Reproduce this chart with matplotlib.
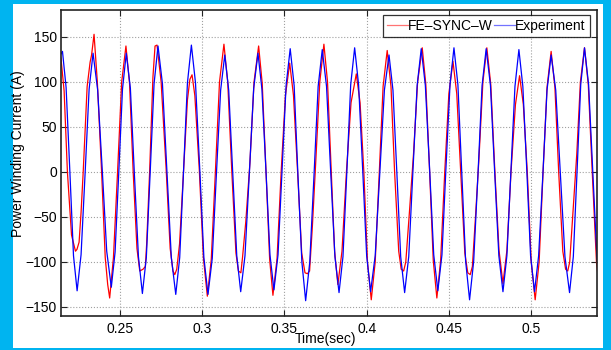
import matplotlib
matplotlib.use("Agg")
import matplotlib.pyplot as plt

plt.rcParams['font.family'] = ['Liberation Sans', 'DejaVu Sans']

# ---------------- data ----------------
t_exp = [0.2140, 0.2150, 0.2172, 0.2195, 0.2217, 0.2239, 0.2263, 0.2288, 0.2312, 0.2336,
         0.2364, 0.2392, 0.2419, 0.2447, 0.2470, 0.2493, 0.2515, 0.2538,
         0.2563, 0.2587, 0.2612, 0.2636, 0.2660, 0.2684, 0.2707, 0.2731,
         0.2758, 0.2785, 0.2812, 0.2839, 0.2863, 0.2887, 0.2910, 0.2934,
         0.2959, 0.2985, 0.3010, 0.3035, 0.3061, 0.3086, 0.3112, 0.3137,
         0.3161, 0.3186, 0.3210, 0.3234, 0.3260, 0.3287, 0.3313, 0.3339,
         0.3363, 0.3388, 0.3412, 0.3436, 0.3461, 0.3486, 0.3510, 0.3535,
         0.3559, 0.3582, 0.3606, 0.3629, 0.3654, 0.3680, 0.3705, 0.3730,
         0.3756, 0.3781, 0.3807, 0.3832, 0.3856, 0.3880, 0.3903, 0.3927,
         0.3951, 0.3976, 0.4000, 0.4024, 0.4052, 0.4080, 0.4108, 0.4136,
         0.4160, 0.4184, 0.4207, 0.4231, 0.4256, 0.4282, 0.4307, 0.4332,
         0.4357, 0.4383, 0.4408, 0.4433, 0.4458, 0.4482, 0.4507, 0.4531,
         0.4555, 0.4579, 0.4602, 0.4626, 0.4651, 0.4677, 0.4702, 0.4727,
         0.4753, 0.4778, 0.4804, 0.4829, 0.4853, 0.4878, 0.4902, 0.4926,
         0.4950, 0.4974, 0.4997, 0.5021, 0.5046, 0.5072, 0.5097, 0.5122,
         0.5150, 0.5178, 0.5206, 0.5234, 0.5257, 0.5280, 0.5302, 0.5325,
         0.5350, 0.5375, 0.5400, 0.5425]
i_exp = [131, 134, 94, 0, -93, -132, -92, 0, 92, 132,
         91, 2, -88, -128, -89, 2, 92, 132,
         93, -1, -94, -135, -95, 2, 98, 140,
         98, 2, -95, -136, -95, 3, 99, 141,
         99, 3, -95, -136, -96, -3, 91, 130,
         91, -2, -93, -133, -93, 0, 93, 132,
         92, 0, -92, -131, -92, 3, 96, 137,
         96, -3, -100, -143, -100, -3, 95, 136,
         95, 1, -94, -134, -94, 2, 97, 138,
         97, 2, -93, -133, -93, -2, 91, 130,
         91, -2, -94, -134, -94, 2, 96, 137,
         96, 3, -92, -132, -92, 3, 97, 138,
         97, -2, -99, -142, -99, -3, 96, 137,
         96, 2, -93, -133, -93, 2, 95, 136,
         95, 2, -93, -133, -93, -2, 91, 130,
         91, -2, -94, -134, -94, 2, 97, 138,
         97, 2, -93, -134]

t_fe = [0.2125, 0.2141, 0.2160, 0.2180, 0.2205, 0.2229, 0.2238, 0.2251, 0.2263, 0.2276,
        0.2300, 0.2318, 0.2327, 0.2342,
        0.2362, 0.2388, 0.2410, 0.2425, 0.2437,
        0.2460, 0.2485, 0.2510, 0.2536,
        0.2558, 0.2580, 0.2603, 0.2620, 0.2640, 0.2654,
        0.2662, 0.2680, 0.2700, 0.2713, 0.2725,
        0.2750, 0.2780, 0.2805, 0.2822, 0.2833, 0.2845,
        0.2862, 0.2886, 0.2910, 0.2925, 0.2938,
        0.2955, 0.2982, 0.3007, 0.3031,
        0.3055, 0.3080, 0.3105, 0.3132,
        0.3155, 0.3180, 0.3205, 0.3220, 0.3235, 0.3245,
        0.3265, 0.3290, 0.3315, 0.3343,
        0.3365, 0.3388, 0.3410, 0.3430,
        0.3455, 0.3480, 0.3506, 0.3532,
        0.3555, 0.3580, 0.3605, 0.3625, 0.3640, 0.3653,
        0.3670, 0.3690, 0.3715, 0.3740,
        0.3762, 0.3785, 0.3805, 0.3825,
        0.3850, 0.3877, 0.3905, 0.3937,
        0.3960, 0.3983, 0.4005, 0.4028,
        0.4052, 0.4077, 0.4100, 0.4125,
        0.4148, 0.4170, 0.4195, 0.4210, 0.4225, 0.4238,
        0.4260, 0.4285, 0.4310, 0.4338,
        0.4360, 0.4383, 0.4405, 0.4427,
        0.4450, 0.4475, 0.4500, 0.4525,
        0.4548, 0.4572, 0.4597, 0.4615, 0.4630, 0.4643,
        0.4662, 0.4683, 0.4707, 0.4731,
        0.4755, 0.4780, 0.4805, 0.4829,
        0.4853, 0.4878, 0.4905, 0.4930,
        0.4953, 0.4977, 0.5001, 0.5025,
        0.5049, 0.5073, 0.5097, 0.5122,
        0.5145, 0.5168, 0.5193, 0.5210, 0.5223, 0.5235,
        0.5255, 0.5278, 0.5300, 0.5325,
        0.5348, 0.5372, 0.5398, 0.5420]
i_fe = [134, 126, 90, 0, -70, -88, -86, -78, -45, 0,
        95, 122, 130, 153,
        100, 0, -95, -125, -140,
        -95, 0, 100, 140,
        98, 0, -85, -110, -108, -105,
        -80, 0, 105, 140, 141,
        100, 5, -85, -110, -114, -108,
        -80, 0, 80, 103, 108,
        85, 3, -95, -138,
        -97, 0, 100, 142,
        100, 0, -90, -110, -112, -95,
        -55, 10, 100, 140,
        98, 0, -97, -137,
        -96, 0, 85, 121,
        85, 0, -90, -112, -113, -110,
        -60, 10, 100, 142,
        100, 0, -88, -125,
        -88, 0, 77, 109,
        77, 0, -100, -142,
        -100, 0, 95, 135,
        95, 0, -88, -108, -110, -100,
        -45, 20, 100, 138,
        97, 0, -98, -140,
        -98, 0, 87, 123,
        87, 0, -90, -112, -114, -105,
        -50, 15, 100, 138,
        97, 0, -87, -124,
        -87, 0, 75, 107,
        75, 0, -100, -142,
        -100, 0, 94, 134,
        94, 0, -88, -108, -110, -100,
        -45, 20, 100, 138,
        97, 0, -101, -135]

series_labels = ['FE\u2013SYNC\u2013W', 'Experiment']
x_ticks = [0.25, 0.3, 0.35, 0.4, 0.45, 0.5]
x_tick_labels = ['0.25', '0.3', '0.35', '0.4', '0.45', '0.5']
y_ticks = [-150, -100, -50, 0, 50, 100, 150]
x_label = 'Time(sec)'
y_label = 'Power Winding Current (A)'

# ---------------- figure ----------------
W, H = 611, 350
fig = plt.figure(figsize=(W / 100, H / 100), dpi=100, facecolor='#00B4F0')
bg = fig.add_axes([13 / W, 1 - 348 / H, (603 - 13) / W, (348 - 4) / H], zorder=-10)
bg.set_facecolor('white')
bg.set_xticks([])
bg.set_yticks([])
for s in bg.spines.values():
    s.set_visible(False)

ax = fig.add_axes([61 / W, 1 - 316 / H, (597 - 61) / W, (316 - 10) / H], zorder=1)
ax.set_facecolor('white')

ax.plot(t_fe, i_fe, color='#FF0000', lw=0.9, label=series_labels[0])
ax.plot(t_exp, i_exp, color='#0000FF', lw=0.9, label=series_labels[1])

ax.set_xlim(0.2141, 0.5401)
ax.set_ylim(-160, 180)
ax.set_xticks(x_ticks)
ax.set_xticklabels(x_tick_labels)
ax.set_yticks(y_ticks)

fs = 10
ax.tick_params(direction='in', top=True, right=True, length=4, width=0.8,
               labelsize=fs, colors='#222222', labelcolor='black')
ax.tick_params(axis='y', pad=3)
ax.tick_params(axis='x', pad=4)
ax.grid(True, linestyle=':', color='#a0a0a0', lw=0.8)
for s in ax.spines.values():
    s.set_color('#222222')
    s.set_linewidth(1.2)

ax.set_xlabel(x_label, fontsize=fs)
ax.xaxis.set_label_coords(0.494, -0.052)
ax.set_ylabel(y_label, fontsize=10)
ax.yaxis.set_label_coords(-0.068, 0.53)

leg = ax.legend(loc='upper right', bbox_to_anchor=(0.987, 0.984), ncol=2,
                fontsize=fs, frameon=True, fancybox=False, handlelength=1.5,
                handletextpad=0.05, columnspacing=0.05, borderpad=0.3,
                borderaxespad=0)
leg.get_frame().set_edgecolor('black')
leg.get_frame().set_linewidth(0.9)
for h in leg.get_lines():
    h.set_alpha(0.55)

fig.savefig('out.png', dpi=100, facecolor=fig.get_facecolor())
